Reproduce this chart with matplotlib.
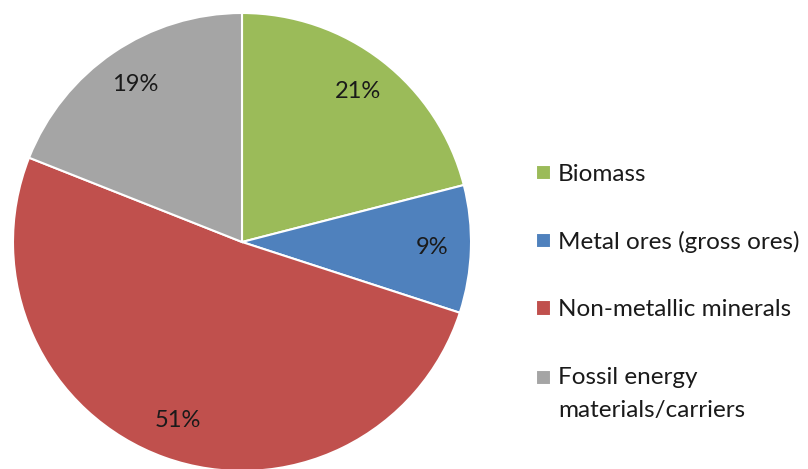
import matplotlib.pyplot as plt

labels = ['Biomass', 'Metal ores (gross ores)', 'Non-metallic minerals',
          'Fossil energy\nmaterials/carriers']
shares = [21, 9, 51, 19]
colors = ['#9BBB59', '#4F81BD', '#C0504D', '#A5A5A5']

plt.rcParams['font.family'] = ['Lato', 'DejaVu Sans']

W, H = 808, 469
fig = plt.figure(figsize=(W / 100, H / 100), dpi=100)

# pie: centre (242, 242) px from top, radius 229 px
cx, cy, r = 242, 242, 229
ax = fig.add_axes([(cx - r) / W, (H - cy - r) / H, 2 * r / W, 2 * r / H])
wedges, texts, autotexts = ax.pie(
    shares, colors=colors, startangle=90, counterclock=False,
    autopct='%1.0f%%', pctdistance=0.83,
    wedgeprops=dict(edgecolor='white', linewidth=1.5),
    textprops=dict(fontsize=17, color='#1a1a1a'))
ax.set_xlim(-1, 1)
ax.set_ylim(-1, 1)
ax.set_aspect('equal')
ax.axis('off')

fs = 17.5
leg = fig.legend(wedges, labels, loc='upper left',
                 bbox_to_anchor=(536 / W, 1 - 164 / H),
                 frameon=False, fontsize=fs, handlelength=0.6, handleheight=0.6,
                 handletextpad=0.3, labelspacing=1.9, borderaxespad=0, borderpad=0)
for t in leg.get_texts():
    t.set_color('#1a1a1a')
leg.get_texts()[3].set_linespacing(1.75)
# put the square of the two-line entry beside its first line
rect = leg.legend_handles[3]
rect.set_y(rect.get_y() + 33 * 0.72 / 2)

fig.savefig('out.png', dpi=100)
